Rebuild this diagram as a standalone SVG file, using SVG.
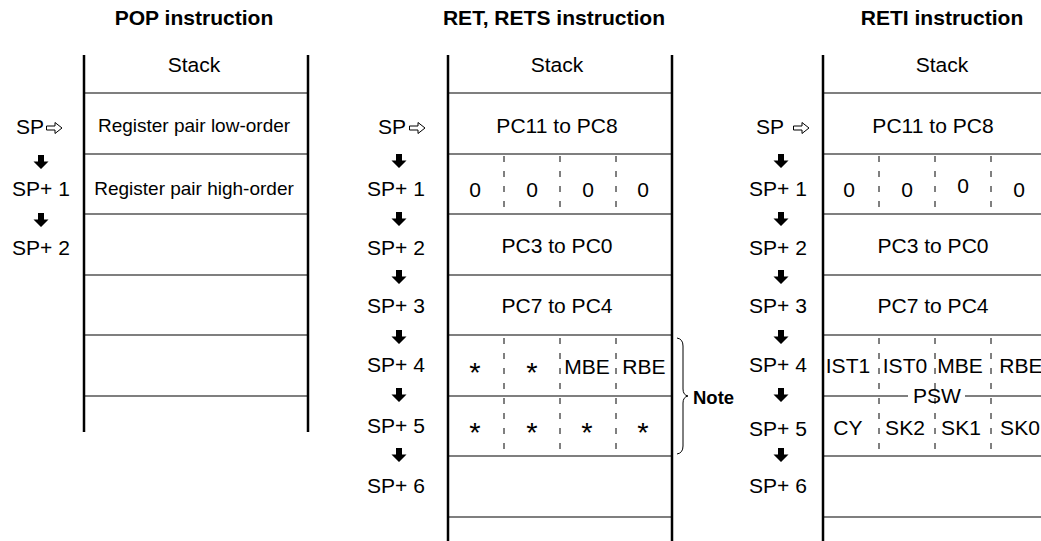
<svg xmlns="http://www.w3.org/2000/svg" width="1041" height="541" viewBox="0 0 1041 541">
<style>
text { font-family: "Liberation Sans", Arial, sans-serif; fill: #000; }
.t, .c, .l, .a { transform-box: fill-box; transform-origin: center; transform: scaleX(1.08); }
.t { font-size: 19.5px; font-weight: bold; text-anchor: middle; }
.c { font-size: 19.5px; text-anchor: middle; }
.a { font-size: 27px; text-anchor: middle; }
.r { font-size: 19px; text-anchor: middle; }
.l { font-size: 19.5px; }
.note { font-size: 18.5px; font-weight: bold; }
.v { stroke: #000; stroke-width: 2.5; fill: none; }
.h { stroke: #000; stroke-width: 1.2; fill: none; }
.d { stroke: #000; stroke-width: 1; stroke-dasharray: 6 9; fill: none; }
.b { stroke: #000; stroke-width: 1; fill: none; }
</style>
<defs>
<path id="down" d="M-3,0 H3 V6.5 H7.5 L0,14 L-7.5,6.5 H-3 Z" fill="#000"/>
<path id="ptr" d="M0.5,-2 H9 V-5.5 L16,0 L9,5.5 V2 H0.5 Z" fill="#fff" stroke="#000" stroke-width="1"/>
</defs>
<rect width="1041" height="541" fill="#fff"/>

<g id="titles">
<text class="t" x="194" y="25">POP instruction</text>
<text class="t" x="554" y="25">RET, RETS instruction</text>
<text class="t" x="942" y="25">RETI instruction</text>
</g>

<g id="stack-pop">
<path class="v" d="M84,55 V432 M308,55 V432"/>
<path class="h" d="M84,93 H308 M84,154 H308 M84,214 H308 M84,275 H308 M84,335 H308 M84,396 H308"/>
<text class="c" x="194" y="72">Stack</text>
<text class="r" x="194" y="132">Register pair low-order</text>
<text class="r" x="194" y="195">Register pair high-order</text>
</g>

<g id="stack-ret">
<path class="v" d="M448,55 V541 M672,55 V541"/>
<path class="h" d="M448,93 H672 M448,154 H672 M448,214 H672 M448,275 H672 M448,335 H672 M448,396 H672 M448,456 H672 M448,517 H672"/>
<path class="d" d="M504,156 V208 M560,156 V208 M616,156 V208 M504,338 V452 M560,338 V452 M616,338 V452"/>
<text class="c" x="557" y="72">Stack</text>
<text class="c" x="557" y="133">PC11 to PC8</text>
<text class="c" x="475" y="197">0</text>
<text class="c" x="532" y="197">0</text>
<text class="c" x="588" y="197">0</text>
<text class="c" x="643" y="197">0</text>
<text class="c" x="557" y="253">PC3 to PC0</text>
<text class="c" x="557" y="313">PC7 to PC4</text>
<text class="a" x="475" y="382">*</text>
<text class="a" x="532" y="382">*</text>
<text class="c" x="587" y="374">MBE</text>
<text class="c" x="644" y="374">RBE</text>
<text class="a" x="475" y="442">*</text>
<text class="a" x="532" y="442">*</text>
<text class="a" x="587" y="442">*</text>
<text class="a" x="643" y="442">*</text>
</g>

<g id="note">
<path class="b" d="M677,338 Q683,339 683,346 L683,389 Q683,395 688,396 Q683,397 683,403 L683,446 Q683,453 677,454"/>
<text class="note" x="693" y="404">Note</text>
</g>

<g id="stack-reti">
<path class="v" d="M823,55 V541"/>
<path class="h" d="M823,93 H1041 M823,154 H1041 M823,214 H1041 M823,275 H1041 M823,335 H1041 M823,396 H908 M965,396 H1041 M823,456 H1041 M823,517 H1041"/>
<path class="d" d="M879,156 V208 M935,156 V208 M991,156 V208 M879,338 V452 M935,338 V452 M991,338 V452"/>
<text class="c" x="942" y="72">Stack</text>
<text class="c" x="933" y="133">PC11 to PC8</text>
<text class="c" x="849" y="197">0</text>
<text class="c" x="907" y="197">0</text>
<text class="c" x="963" y="193">0</text>
<text class="c" x="1019" y="197">0</text>
<text class="c" x="933" y="253">PC3 to PC0</text>
<text class="c" x="933" y="313">PC7 to PC4</text>
<text class="c" x="848" y="373">IST1</text>
<text class="c" x="905" y="373">IST0</text>
<text class="c" x="960" y="373">MBE</text>
<text class="c" x="1021" y="373">RBE</text>
<text class="c" x="937" y="403">PSW</text>
<text class="c" x="848" y="435">CY</text>
<text class="c" x="905" y="435">SK2</text>
<text class="c" x="961" y="435">SK1</text>
<text class="c" x="1020" y="435">SK0</text>
</g>

<g id="labels-pop">
<text class="l" x="17" y="134">SP</text>
<text class="c" x="41" y="196">SP+ 1</text>
<text class="c" x="41" y="255">SP+ 2</text>
</g>
<g id="labels-ret">
<text class="l" x="379" y="134">SP</text>
<text class="c" x="396" y="196">SP+ 1</text>
<text class="c" x="396" y="255">SP+ 2</text>
<text class="c" x="396" y="313">SP+ 3</text>
<text class="c" x="396" y="372">SP+ 4</text>
<text class="c" x="396" y="433">SP+ 5</text>
<text class="c" x="396" y="493">SP+ 6</text>
</g>
<g id="labels-reti">
<text class="l" x="757" y="134">SP</text>
<text class="c" x="778" y="196">SP+ 1</text>
<text class="c" x="778" y="255">SP+ 2</text>
<text class="c" x="778" y="313">SP+ 3</text>
<text class="c" x="778" y="372">SP+ 4</text>
<text class="c" x="778" y="436">SP+ 5</text>
<text class="c" x="778" y="493">SP+ 6</text>
</g>

<g id="connectors">
<use href="#ptr" x="46" y="128"/>
<use href="#ptr" x="409" y="128"/>
<use href="#ptr" x="793" y="128"/>
<use href="#down" x="41" y="155"/>
<use href="#down" x="41" y="213"/>
<use href="#down" x="399" y="154"/>
<use href="#down" x="399" y="212"/>
<use href="#down" x="399" y="270"/>
<use href="#down" x="399" y="330"/>
<use href="#down" x="399" y="388"/>
<use href="#down" x="399" y="448"/>
<use href="#down" x="781" y="154"/>
<use href="#down" x="781" y="212"/>
<use href="#down" x="781" y="270"/>
<use href="#down" x="781" y="330"/>
<use href="#down" x="781" y="388"/>
<use href="#down" x="781" y="448"/>
</g>
</svg>
